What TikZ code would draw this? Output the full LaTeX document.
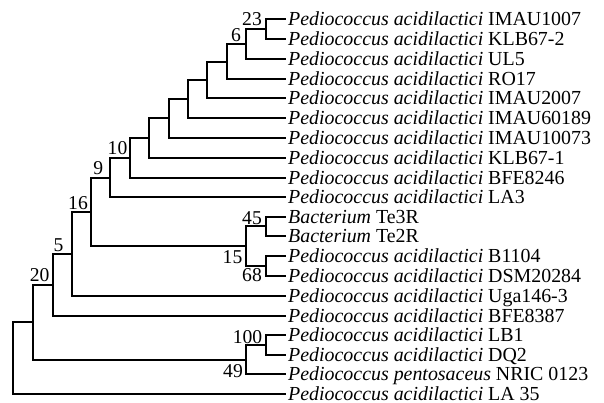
\documentclass[tikz,border=0pt]{standalone}
\usepackage{fontspec}
\setmainfont{Liberation Serif}
\begin{document}
\begin{tikzpicture}[x=1pt,y=-1pt,
  leaf/.style={anchor=west,inner xsep=3pt,inner ysep=0pt,text height=13pt,text depth=0pt,font=\fontsize{19.9}{20}\selectfont},
  blab/.style={anchor=center,inner sep=0pt,text depth=0pt,font=\fontsize{19.6}{20}\selectfont},
  edge/.style={draw=black,line width=1.6pt,line cap=rect}]
\useasboundingbox (0,0) rectangle (604,403);
% leaves
\node[leaf] (l1)  at (285,19)  {\textit{Pediococcus acidilactici} IMAU1007};
\node[leaf] (l2)  at (285,39)  {\textit{Pediococcus acidilactici} KLB67-2};
\node[leaf] (l3)  at (285,59)  {\textit{Pediococcus acidilactici} UL5};
\node[leaf] (l4)  at (285,79)  {\textit{Pediococcus acidilactici} RO17};
\node[leaf] (l5)  at (285,98)  {\textit{Pediococcus acidilactici} IMAU2007};
\node[leaf] (l6)  at (285,118) {\textit{Pediococcus acidilactici} IMAU60189};
\node[leaf] (l7)  at (285,138) {\textit{Pediococcus acidilactici} IMAU10073};
\node[leaf] (l8)  at (285,158) {\textit{Pediococcus acidilactici} KLB67-1};
\node[leaf] (l9)  at (285,178) {\textit{Pediococcus acidilactici} BFE8246};
\node[leaf] (l10) at (285,197) {\textit{Pediococcus acidilactici} LA3};
\node[leaf] (l11) at (285,217) {\textit{Bacterium} Te3R};
\node[leaf] (l12) at (285,236) {\textit{Bacterium} Te2R};
\node[leaf] (l13) at (285,256) {\textit{Pediococcus acidilactici} B1104};
\node[leaf] (l14) at (285,276) {\textit{Pediococcus acidilactici} DSM20284};
\node[leaf] (l15) at (285,296) {\textit{Pediococcus acidilactici} Uga146-3};
\node[leaf] (l16) at (285,316) {\textit{Pediococcus acidilactici} BFE8387};
\node[leaf] (l17) at (285,335) {\textit{Pediococcus acidilactici} LB1};
\node[leaf] (l18) at (285,355) {\textit{Pediococcus acidilactici} DQ2};
\node[leaf] (l19) at (285,374) {\textit{Pediococcus pentosaceus} NRIC 0123};
\node[leaf] (l20) at (285,394) {\textit{Pediococcus acidilactici} LA 35};
% internal nodes
\coordinate (n23) at (266,29);
\coordinate (n6)  at (246,44);
\coordinate (nA)  at (227,62);
\coordinate (nB)  at (207,80);
\coordinate (nC)  at (188,99);
\coordinate (nD)  at (169,118);
\coordinate (nE)  at (149,138);
\coordinate (n10) at (130,158);
\coordinate (n9)  at (110,178);
\coordinate (n45) at (266,226);
\coordinate (n68) at (266,266);
\coordinate (n15) at (246,246);
\coordinate (n16) at (91,212);
\coordinate (n5)  at (72,254);
\coordinate (n20) at (53,285);
\coordinate (n100) at (266,345);
\coordinate (n49) at (246,360);
\coordinate (nR)  at (33,322);
\coordinate (root) at (13,358);
% edges
\draw[edge] (n23) |- (l1.west);  \draw[edge] (n23) |- (l2.west);
\draw[edge] (n6) |- (n23);       \draw[edge] (n6) |- (l3.west);
\draw[edge] (nA) |- (n6);        \draw[edge] (nA) |- (l4.west);
\draw[edge] (nB) |- (nA);        \draw[edge] (nB) |- (l5.west);
\draw[edge] (nC) |- (nB);        \draw[edge] (nC) |- (l6.west);
\draw[edge] (nD) |- (nC);        \draw[edge] (nD) |- (l7.west);
\draw[edge] (nE) |- (nD);        \draw[edge] (nE) |- (l8.west);
\draw[edge] (n10) |- (nE);       \draw[edge] (n10) |- (l9.west);
\draw[edge] (n9) |- (n10);       \draw[edge] (n9) |- (l10.west);
\draw[edge] (n45) |- (l11.west); \draw[edge] (n45) |- (l12.west);
\draw[edge] (n68) |- (l13.west); \draw[edge] (n68) |- (l14.west);
\draw[edge] (n15) |- (n45);      \draw[edge] (n15) |- (n68);
\draw[edge] (n16) |- (n9);       \draw[edge] (n16) |- (n15);
\draw[edge] (n5) |- (n16);       \draw[edge] (n5) |- (l15.west);
\draw[edge] (n20) |- (n5);       \draw[edge] (n20) |- (l16.west);
\draw[edge] (n100) |- (l17.west); \draw[edge] (n100) |- (l18.west);
\draw[edge] (n49) |- (n100);     \draw[edge] (n49) |- (l19.west);
\draw[edge] (nR) |- (n20);       \draw[edge] (nR) |- (n49);
\draw[edge] (root) |- (nR);      \draw[edge] (root) |- (l20.west);
% bootstrap labels
\node[blab] (b23)  at (252,18.7)   {23};
\node[blab] (b6)   at (236,35)     {6};
\node[blab] (b10)  at (117.5,148.3) {10};
\node[blab] (b9)   at (98.3,168.3) {9};
\node[blab] (b16)  at (78,203.3)   {16};
\node[blab] (b5)   at (58.5,245.3) {5};
\node[blab] (b20)  at (39.7,275)   {20};
\node[blab] (b45)  at (252,218)    {45};
\node[blab] (b15)  at (232.5,256.7) {15};
\node[blab] (b68)  at (252,275)    {68};
\node[blab] (b100) at (247.5,336.7) {100};
\node[blab] (b49)  at (233,371)    {49};
\end{tikzpicture}
\end{document}
